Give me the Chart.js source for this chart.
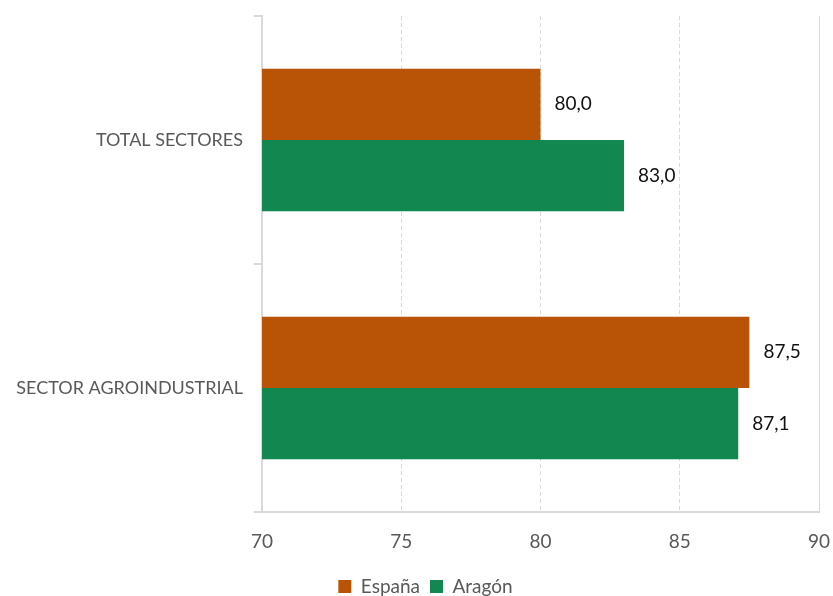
<!DOCTYPE html>
<html>
<head>
<meta charset="utf-8">
<script src="https://cdn.jsdelivr.net/npm/chart.js@4/dist/chart.umd.min.js"></script>
<style>
  html, body { margin: 0; padding: 0; background: #fff; }
  #wrap { width: 833px; height: 596px; }
</style>
</head>
<body>
<div id="wrap"><canvas id="chart" width="833" height="596"></canvas></div>
<script>
const categories = ['TOTAL SECTORES', 'SECTOR AGROINDUSTRIAL'];
const espana = [80.0, 87.5];
const aragon = [83.0, 87.1];
const xTicks = [70, 75, 80, 85, 90];

const FONT = 'Lato, "Liberation Sans", sans-serif';

// etiquetas de valor a la derecha de cada barra
const valueLabels = {
  id: 'valueLabels',
  afterDatasetsDraw(chart) {
    const ctx = chart.ctx;
    ctx.save();
    ctx.font = '19px ' + FONT;
    ctx.fillStyle = '#111';
    ctx.textAlign = 'left';
    ctx.textBaseline = 'middle';
    chart.data.datasets.forEach((ds, i) => {
      chart.getDatasetMeta(i).data.forEach((bar, j) => {
        ctx.fillText(ds.data[j].toFixed(1).replace('.', ','), bar.x + 14, bar.y);
      });
    });
    ctx.restore();
  }
};

// leyenda más baja y algo desplazada a la derecha
const legendTweak = {
  id: 'legendTweak',
  beforeLayout(chart) {
    const lg = chart.legend;
    if (!lg || lg._tweaked) return;
    const fit = lg.fit.bind(lg);
    lg.fit = function () { fit(); this.height = 29; };
    lg._tweaked = true;
  },
  afterLayout(chart) {
    if (chart.legend) chart.legend.left += 32;
  }
};

new Chart(document.getElementById('chart').getContext('2d'), {
  type: 'bar',
  data: {
    labels: categories,
    datasets: [
      { label: 'España', data: espana, backgroundColor: '#b95305', categoryPercentage: 0.575, barPercentage: 1 },
      { label: 'Aragón', data: aragon, backgroundColor: '#128850', categoryPercentage: 0.575, barPercentage: 1 }
    ]
  },
  options: {
    indexAxis: 'y',
    responsive: false,
    animation: false,
    layout: { padding: { top: 16, right: 14, left: 0, bottom: 0 } },
    scales: {
      x: {
        min: 70,
        max: 90,
        afterBuildTicks: (scale) => { scale.ticks = xTicks.map(v => ({ value: v })); },
        afterFit: (scale) => {
          scale.height = 55;
          scale.paddingLeft = 0;
          scale.paddingRight = 0;
        },
        grid: {
          color: '#d9d9d9',
          lineWidth: 1,
          drawTicks: false
        },
        border: {
          color: '#d9d9d9',
          width: 2,
          dash: (c) => (c.index === xTicks.length - 1 ? [] : [4, 3])
        },
        ticks: {
          padding: 18,
          color: '#595959',
          font: { family: FONT, size: 19 }
        }
      },
      y: {
        afterFit: (scale) => {
          scale.width = 262;
          scale.paddingTop = 0;
          scale.paddingBottom = 0;
        },
        grid: {
          offset: true,
          drawOnChartArea: false,
          drawTicks: true,
          tickLength: 8,
          color: '#d9d9d9',
          lineWidth: 2
        },
        border: { color: '#d9d9d9', width: 2 },
        ticks: {
          padding: 11,
          color: '#595959',
          font: { family: FONT, size: 18 }
        }
      }
    },
    plugins: {
      legend: {
        position: 'bottom',
        labels: {
          boxWidth: 13,
          boxHeight: 13,
          padding: 10,
          color: '#595959',
          font: { family: FONT, size: 19 }
        }
      },
      tooltip: { enabled: false }
    }
  },
  plugins: [valueLabels, legendTweak]
});
</script>
</body>
</html>
